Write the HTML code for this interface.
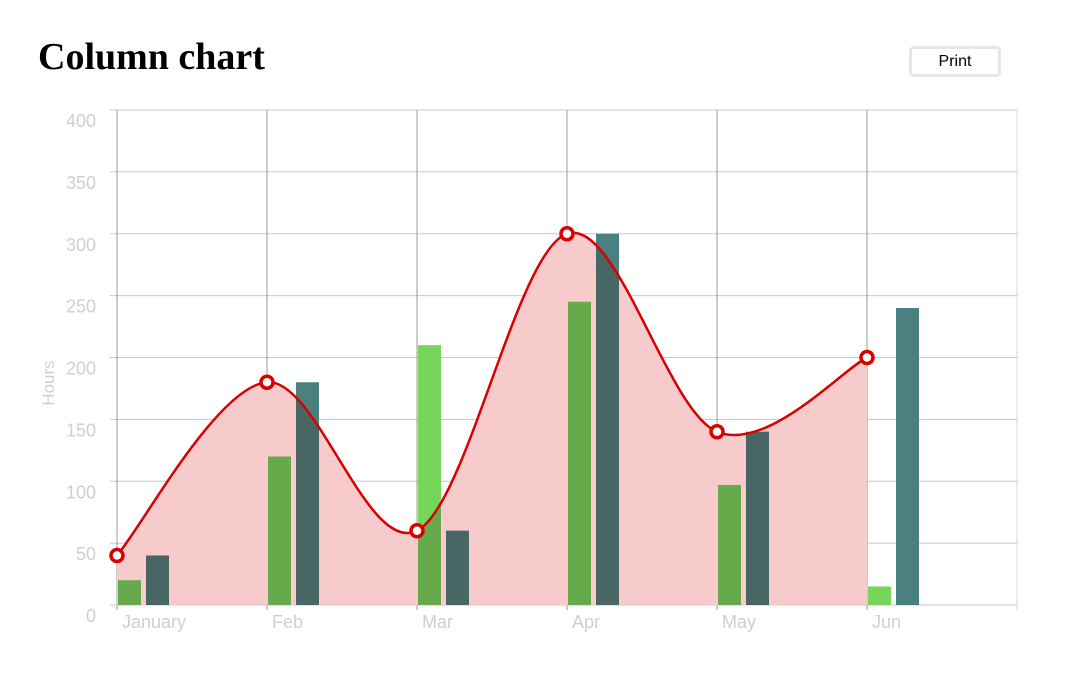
<!DOCTYPE html>
<html><head><meta charset="utf-8"><style>
body{margin:0;width:1080px;height:697px;background:#fff;position:relative;overflow:hidden}
h1{position:absolute;left:38px;top:35px;margin:0;font:bold 38px "Liberation Serif",serif;color:#000}
button{position:absolute;left:909px;top:46px;width:92px;height:31px;background:#fff;border:3px solid #e6e6e6;border-radius:5px;font:16px "Liberation Sans",sans-serif;color:#000}
svg{position:absolute;left:0;top:0}
text{font-family:"Liberation Sans",sans-serif;fill:#cfcfcf}
</style></head><body>
<h1>Column chart</h1>
<button>Print</button>
<svg id="c" width="1080" height="697"></svg>
<script>
const categories=["January","Feb","Mar","Apr","May","Jun"];
const series1=[20,120,210,245,97,15];
const series2=[40,180,60,300,140,240];
const lineValues=[40,180,60,300,140,200];
const yTicks=[0,50,100,150,200,250,300,350,400];
const NS="http://www.w3.org/2000/svg";
const svg=document.getElementById('c');
const X0=117,CW=150,Y0=605,YMAX=400,YTOP=110;
const xs=i=>X0+i*CW;
const ys=v=>Y0-(v/YMAX)*(Y0-YTOP);
function mk(t,a,p){const e=document.createElementNS(NS,t);for(const k in a)e.setAttribute(k,a[k]);(p||svg).appendChild(e);return e;}
yTicks.forEach(v=>{const l=mk('line',{x1:110,x2:1018,y1:ys(v),y2:ys(v),stroke:'#c8c8c8','stroke-width':1});

const t=mk('text',{x:96,y:ys(v)+17,'text-anchor':'end','font-size':18});t.textContent=v;
});
for(let i=0;i<=categories.length;i++){const l=mk('line',{x1:xs(i),x2:xs(i),y1:YTOP,y2:Y0+5,stroke:i===categories.length?'#ddd':'#9a9a9a','stroke-width':1});
}
categories.forEach((c,i)=>{const t=mk('text',{x:xs(i)+5,y:628,'font-size':18});t.textContent=c;
});
const yt=mk('text',{x:54,y:383,'font-size':17,'text-anchor':'middle',transform:'rotate(-90 54 383)'});yt.textContent='Hours';

const pts=lineValues.map((v,i)=>[xs(i),ys(v)]);
let d=`M${pts[0][0]},${pts[0][1]}`;
for(let i=0;i<pts.length-1;i++){const p0=pts[Math.max(0,i-1)],p1=pts[i],p2=pts[i+1],p3=pts[Math.min(pts.length-1,i+2)];
const t=1/6;d+=` C${p1[0]+(p2[0]-p0[0])*t},${p1[1]+(p2[1]-p0[1])*t} ${p2[0]-(p3[0]-p1[0])*t},${p2[1]-(p3[1]-p1[1])*t} ${p2[0]},${p2[1]}`;}
const areaD=d+` L${pts[pts.length-1][0]},${Y0} L${pts[0][0]},${Y0} Z`;
const defs=mk('defs',{});const cp=mk('clipPath',{id:'ac'},defs);mk('path',{d:areaD},cp);
const area=mk('path',{d:areaD,fill:'#f7cbcc'});

function bars(vals,off,col,dark,name){vals.forEach((v,i)=>{const a={x:xs(i)+off,y:ys(v),width:23,height:Y0-ys(v)};
const b=mk('rect',Object.assign({fill:col},a));
const b2=mk('rect',Object.assign({fill:dark,'clip-path':'url(#ac)'},a));});}
bars(series1,1,'#77d55a','#67aa4c','bar-series1');
bars(series2,29,'#4a8080','#476664','bar-series2');
const ln=mk('path',{d:d,fill:'none',stroke:'#d90000','stroke-width':2.5});

pts.forEach(p=>{const c=mk('circle',{cx:p[0],cy:p[1],r:6,fill:'#fff',stroke:'#d90000','stroke-width':3.5});
});
</script>
</body></html>
